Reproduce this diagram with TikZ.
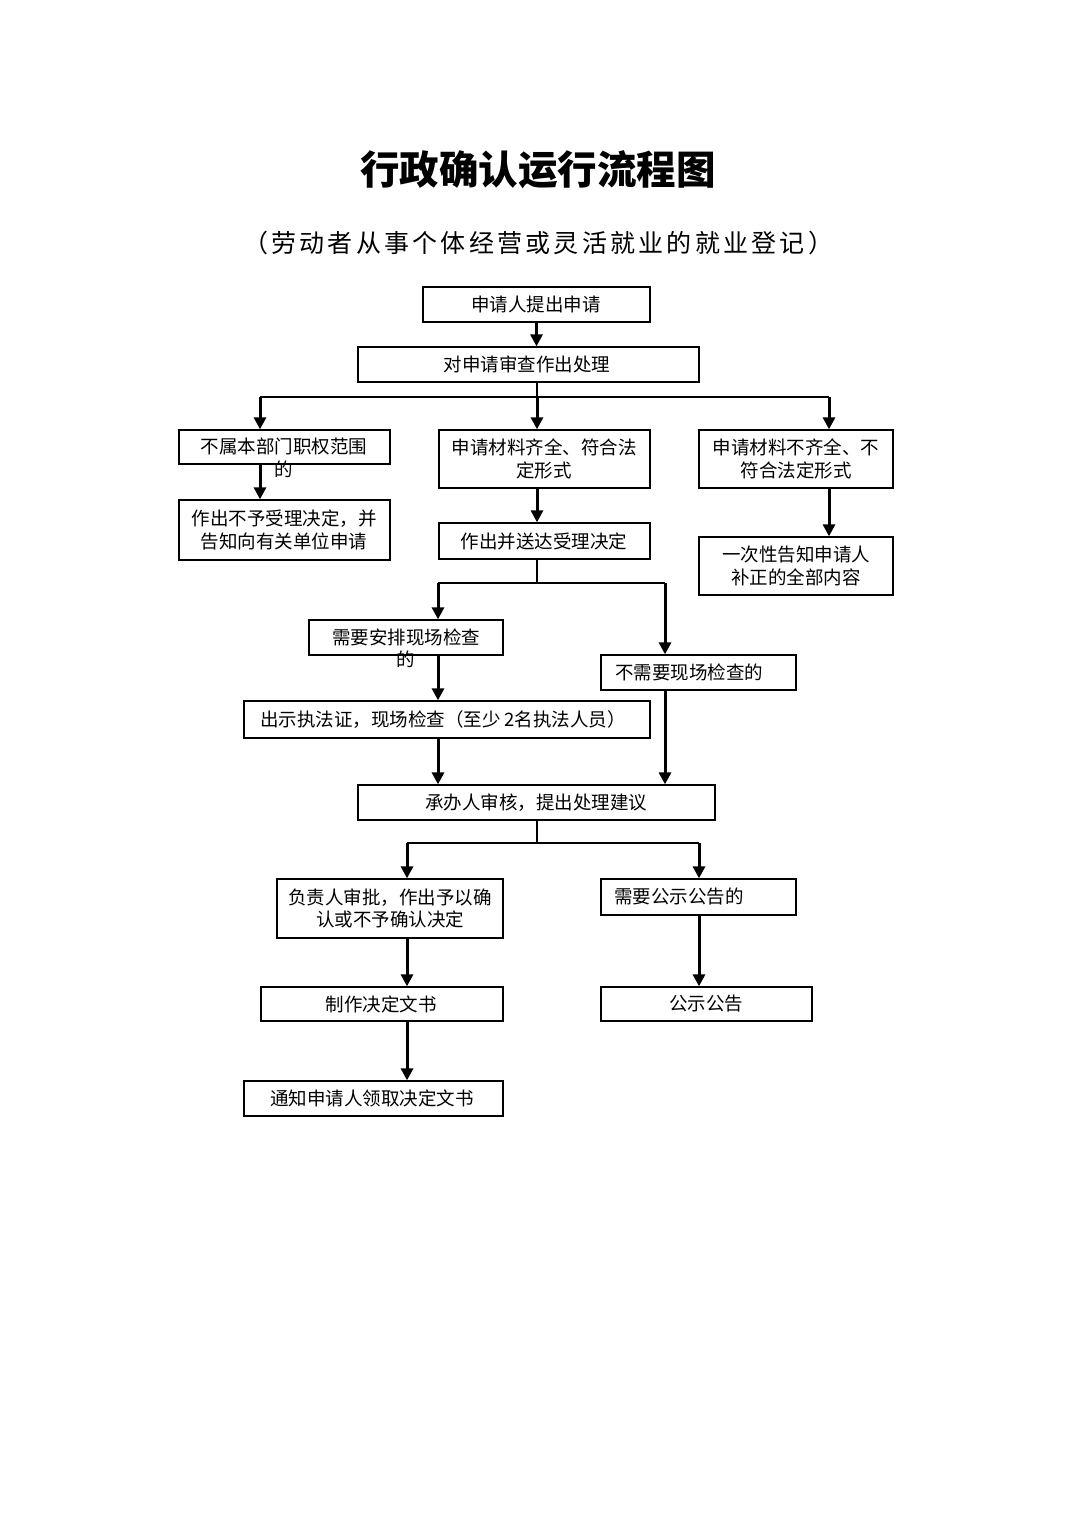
\documentclass[tikz,border=0pt]{standalone}
\usepackage{fontspec}
\setmainfont{Noto Sans CJK SC}
\usetikzlibrary{arrows.meta}
\newcommand\mkbox[5]{%
  \node[boxshape, minimum width={(#4-#2)*1pt}, minimum height={(#5-#3)*1pt}] (#1) at ({(#2+#4)/2},{(#3+#5)/2}) {};}
\begin{document}
\begin{tikzpicture}[x=1pt,y=-1pt,
  boxshape/.style={draw, line width=1.3pt, inner sep=0pt, fill=none},
  txt/.style={inner sep=0pt, align=center, font=\fontsize{18.5}{22.5}\selectfont},
  arr/.style={line width=3pt, -{Triangle[width=12pt,length=12pt]}},
  thinline/.style={line width=1.1pt}]
\useasboundingbox (0,0) rectangle (1074,1520);
\fill[white] (0,0) rectangle (1074,1520);

% title
\node[inner sep=0pt, font=\fontsize{39.5}{44}\selectfont\bfseries] (title) at (538,170) {行政确认运行流程图};
\node[inner sep=0pt, font=\fontsize{25}{30}\selectfont\addfontfeature{LetterSpace=13}] (subtitle) at (538,243) {（劳动者从事个体经营或灵活就业的就业登记）};

% boxes
\mkbox{b1}{423}{287}{650}{322}
\node[txt] (t1) at (536,304.5) {申请人提出申请};
\mkbox{b2}{358}{347}{699}{382}
\node[txt] (t2) at (527,364.5) {对申请审查作出处理};
\mkbox{b4}{179}{430}{390}{464}
\node[txt] (t4) at (284,458) {不属本部门职权范围\\的};
\mkbox{b5}{179}{500}{390}{560}
\node[txt] (t5) at (284,530) {作出不予受理决定，并\\告知向有关单位申请};
\mkbox{b6}{439}{430}{650}{488}
\node[txt] (t6) at (544,459) {申请材料齐全、符合法\\定形式};
\mkbox{b8}{439}{523}{650}{559}
\node[txt] (t8) at (544,541) {作出并送达受理决定};
\mkbox{b9}{699}{430}{893}{488}
\node[txt] (t9) at (796,459) {申请材料不齐全、不\\符合法定形式};
\mkbox{b11}{699}{537}{893}{595}
\node[txt] (t11) at (796,566) {一次性告知申请人\\补正的全部内容};
\mkbox{b13}{309}{620}{503}{655}
\node[txt] (t13) at (406,648) {需要安排现场检查\\的};
\mkbox{b15}{244}{701}{650}{738}
\node[txt] (t15) at (443,719.5) {出示执法证，现场检查（至少 2名执法人员）};
\mkbox{b16}{601}{655}{796}{690}
\node[txt] (t16) at (689,672) {不需要现场检查的};
\mkbox{b18}{358}{785}{715}{820}
\node[txt] (t18) at (536,802.5) {承办人审核，提出处理建议};
\mkbox{b20}{277}{879}{503}{938}
\node[txt] (t20) at (390,908.5) {负责人审批，作出予以确\\认或不予确认决定};
\mkbox{b21}{601}{879}{796}{915}
\node[txt] (t21) at (679,897) {需要公示公告的};
\mkbox{b23}{261}{987}{503}{1021}
\node[txt] (t23) at (381,1004) {制作决定文书};
\mkbox{b25}{601}{987}{812}{1021}
\node[txt] (t25) at (706,1004) {公示公告};
\mkbox{b27}{244}{1081}{503}{1116}
\node[txt] (t27) at (372,1098.5) {通知申请人领取决定文书};

% junction coordinates
\coordinate (s1) at (537,397);
\coordinate (l1) at (260,397);
\coordinate (r1) at (829,397);
\coordinate (s2) at (537,583);
\coordinate (l2) at (438,583);
\coordinate (r2) at (665,583);
\coordinate (s3) at (537,843);
\coordinate (l3) at (407,843);
\coordinate (r3) at (699,843);

% connectors
\draw[arr] (b1.south) -- (b1.south |- b2.north);
\draw[thinline] (s1 |- b2.south) -- (s1);
\draw[thinline] (l1) -- (r1);
\draw[arr] (l1) -- (l1 |- b4.north);
\draw[arr] (s1) -- (s1 |- b6.north);
\draw[arr] (r1) -- (r1 |- b9.north);
\draw[arr] (l1 |- b4.south) -- (l1 |- b5.north);
\draw[arr] (s1 |- b6.south) -- (s1 |- b8.north);
\draw[arr] (r1 |- b9.south) -- (r1 |- b11.north);

\draw[thinline] (s2 |- b8.south) -- (s2);
\draw[thinline] (l2) -- (r2);
\draw[arr] (l2) -- (l2 |- b13.north);
\draw[arr] (r2) -- (r2 |- b16.north);
\draw[arr] (l2 |- b13.south) -- (l2 |- b15.north);
\draw[arr] (l2 |- b15.south) -- (l2 |- b18.north);
\draw[arr] (r2 |- b16.south) -- (r2 |- b18.north);

\draw[thinline] (s3 |- b18.south) -- (s3);
\draw[thinline] (l3) -- (r3);
\draw[arr] (l3) -- (l3 |- b20.north);
\draw[arr] (r3) -- (r3 |- b21.north);
\draw[arr] (l3 |- b20.south) -- (l3 |- b23.north);
\draw[arr] (r3 |- b21.south) -- (r3 |- b25.north);
\draw[arr] (l3 |- b23.south) -- (l3 |- b27.north);
\end{tikzpicture}
\end{document}
